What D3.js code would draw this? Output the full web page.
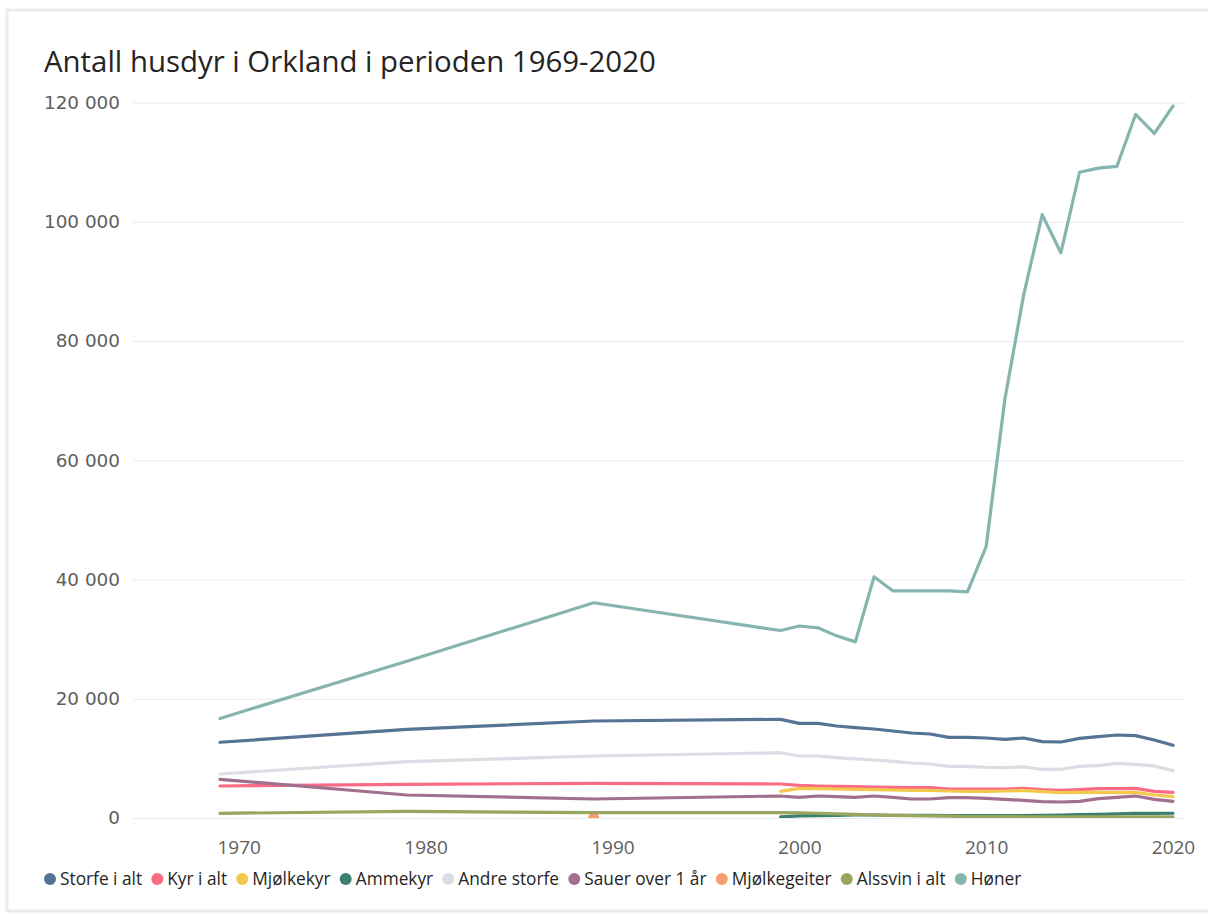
<!DOCTYPE html>
<html>
<head>
<meta charset="utf-8">
<script src="https://cdn.jsdelivr.net/npm/d3@7"></script>
<style>
  html, body { margin: 0; padding: 0; background: #ffffff; }
  svg { display: block; }
</style>
</head>
<body>
<svg id="chart" width="1208" height="915"></svg>
<script>
// ---- Data ----
const years = [1969, 1979, 1989, 1999, 2000, 2001, 2002, 2003, 2004, 2005, 2006, 2007, 2008, 2009, 2010, 2011, 2012, 2013, 2014, 2015, 2016, 2017, 2018, 2019, 2020];

const storfeIAlt   = [12700, 14850, 16270, 16550, 15880, 15880, 15430, 15150, 14930, 14590, 14260, 14090, 13530, 13530, 13420, 13190, 13420, 12800, 12750, 13360, 13640, 13920, 13810, 13080, 12190];
const kyrIAlt      = [5370, 5650, 5820, 5700, 5480, 5370, 5310, 5260, 5200, 5140, 5090, 5090, 4860, 4860, 4860, 4860, 4970, 4750, 4640, 4750, 4920, 4920, 4970, 4470, 4300];
const mjolkekyr    = [null, null, null, 4470, 4980, 4920, 4860, 4810, 4750, 4700, 4640, 4640, 4530, 4470, 4470, 4530, 4640, 4420, 4250, 4310, 4310, 4250, 4310, 3860, 3580];
const ammekyr      = [null, null, null, 200, 350, 400, 450, 500, 500, 450, 450, 450, 400, 400, 400, 420, 420, 450, 500, 550, 600, 700, 800, 780, 800];
const andreStorfe  = [7380, 9450, 10400, 10950, 10400, 10400, 10120, 9900, 9730, 9500, 9220, 9060, 8670, 8670, 8500, 8450, 8560, 8160, 8160, 8670, 8780, 9170, 9000, 8730, 7940];
const sauerOver1Ar = [6490, 3860, 3190, 3690, 3470, 3690, 3580, 3470, 3690, 3470, 3190, 3190, 3410, 3410, 3300, 3130, 2960, 2740, 2680, 2790, 3240, 3470, 3690, 3130, 2790];
const mjolkegeiter = [null, null, 30, null, null, null, null, null, null, null, null, null, null, null, null, null, null, null, null, null, null, null, null, null, null];
const alssvinIAlt  = [780, 1120, 900, 900, 850, 800, 700, 600, 500, 450, 400, 350, 300, 250, 250, 250, 200, 200, 200, 200, 200, 200, 200, 200, 200];
const honer        = [16700, 26300, 36100, 31440, 32200, 31900, 30550, 29540, 40450, 38100, 38100, 38100, 38100, 37930, 45500, 70200, 87600, 101200, 94800, 108300, 109000, 109300, 118000, 114800, 119400];

const seriesNames  = ["Storfe i alt", "Kyr i alt", "Mjølkekyr", "Ammekyr", "Andre storfe", "Sauer over 1 år", "Mjølkegeiter", "Alssvin i alt", "Høner"];
const seriesValues = [storfeIAlt, kyrIAlt, mjolkekyr, ammekyr, andreStorfe, sauerOver1Ar, mjolkegeiter, alssvinIAlt, honer];
const seriesColors = ["#557394", "#fb6c84", "#f2c94c", "#3b7f70", "#dadee4", "#a2708f", "#f79e6e", "#98a65f", "#86b4ae"];

const yTicks = [0, 20000, 40000, 60000, 80000, 100000, 120000];
const xTicks = [1970, 1980, 1990, 2000, 2010, 2020];
const titleText = "Antall husdyr i Orkland i perioden 1969-2020";

// ---- Layout ----
const svg = d3.select("#chart");
const W = 1208, H = 915;
const plot = { left: 220, right: 1173, top: 102.5, bottom: 818, gridLeft: 133, gridRight: 1186 };

// frame
svg.append("rect")
  .attr("x", 7).attr("y", 10).attr("width", W + 20).attr("height", 901)
  .attr("fill", "#ffffff").attr("stroke", "#e9ebee").attr("stroke-width", 3);

// title
svg.append("text")
  .attr("x", 44).attr("y", 72)
  .attr("font-family", "'Open Sans', sans-serif")
  .attr("font-size", 29.4)
  .attr("fill", "#252423")
  .text(titleText);

const x = d3.scaleLinear().domain([1969, 2020]).range([plot.left, plot.right]);
const y = d3.scaleLinear().domain([0, 120000]).range([plot.bottom, plot.top]);

// y grid + labels
const yAxis = d3.axisLeft(y).tickValues(yTicks)
  .tickSize(-(plot.gridRight - plot.gridLeft))
  .tickPadding(13)
  .tickFormat(d => d3.format(",")(d).replace(/,/g, " "));
const gy = svg.append("g").attr("transform", `translate(${plot.gridLeft},0)`).call(yAxis);
gy.select(".domain").remove();
gy.selectAll(".tick line").attr("stroke", "#e8ecf0").attr("stroke-width", 1);
gy.selectAll(".tick text")
  .attr("font-family", "'DejaVu Sans', sans-serif")
  .attr("font-size", 18.4)
  .attr("fill", "#605e5c");

// x labels
const xAxis = d3.axisBottom(x).tickValues(xTicks).tickSize(0).tickPadding(0).tickFormat(d3.format("d"));
const gx = svg.append("g").attr("transform", `translate(0,${plot.bottom + 22})`).call(xAxis);
gx.select(".domain").remove();
gx.selectAll(".tick text")
  .attr("font-family", "'Open Sans', sans-serif")
  .attr("font-size", 19)
  .attr("fill", "#605e5c")
  .attr("dy", "0.71em");

// clip
svg.append("clipPath").attr("id", "plotclip")
  .append("rect").attr("x", plot.gridLeft).attr("y", plot.top - 10)
  .attr("width", plot.gridRight - plot.gridLeft + 10).attr("height", plot.bottom - plot.top + 10);

const gLines = svg.append("g").attr("clip-path", "url(#plotclip)");
const line = d3.line()
  .defined(d => d.v !== null)
  .x(d => x(d.year)).y(d => y(d.v));

seriesValues.forEach((vals, i) => {
  const pts = years.map((yr, j) => ({ year: yr, v: vals[j] }));
  const validCount = pts.filter(p => p.v !== null).length;
  if (validCount > 1) {
    gLines.append("path")
      .datum(pts)
      .attr("d", line)
      .attr("fill", "none")
      .attr("stroke", seriesColors[i])
      .attr("stroke-width", 3.2)
      .attr("stroke-linejoin", "round")
      .attr("stroke-linecap", "round");
  } else {
    gLines.selectAll(null)
      .data(pts.filter(p => p.v !== null))
      .enter().append("circle")
      .attr("cx", d => x(d.year)).attr("cy", d => y(d.v))
      .attr("r", 5.5)
      .attr("fill", seriesColors[i]);
  }
});

// legend
const legend = svg.append("g").attr("transform", "translate(0,879)");
let lx = 50; // circle center of first item
seriesNames.forEach((name, i) => {
  const g = legend.append("g").attr("transform", `translate(${lx},0)`);
  g.append("circle").attr("cx", 0).attr("cy", 0).attr("r", 6).attr("fill", seriesColors[i]);
  const t = g.append("text")
    .attr("x", 10).attr("y", 0).attr("dy", "0.35em")
    .attr("font-family", "'Open Sans', sans-serif")
    .attr("font-size", 17.3)
    .attr("fill", "#252423")
    .text(name);
  const w = t.node().getComputedTextLength();
  lx += 10 + w + 15.2;
});
</script>
</body>
</html>
